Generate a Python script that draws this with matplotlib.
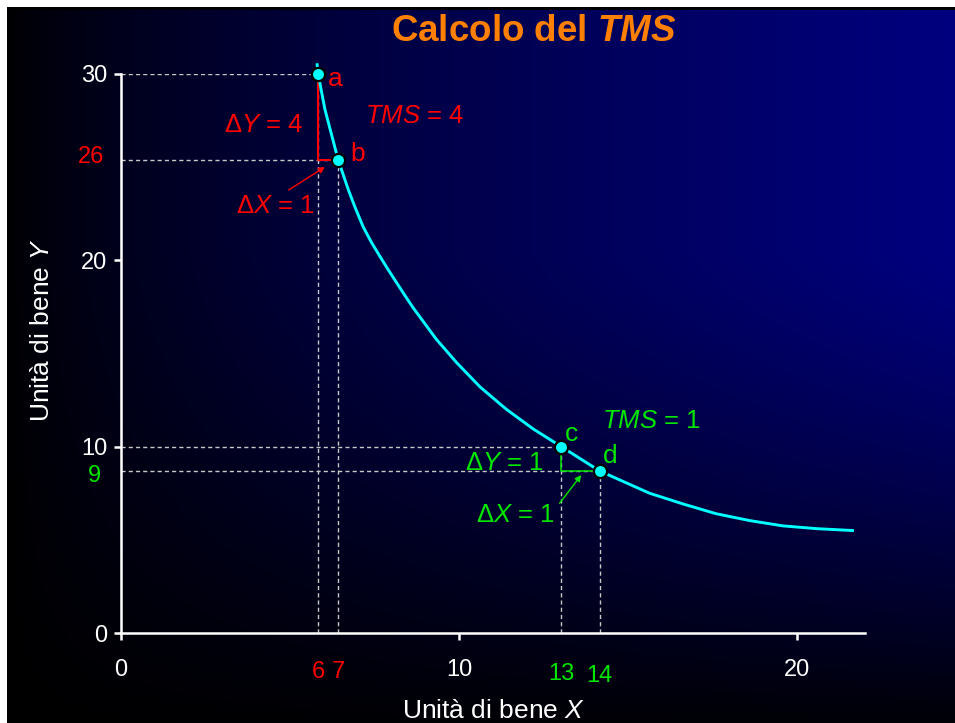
import numpy as np
import matplotlib
matplotlib.use('Agg')
import matplotlib.pyplot as plt

plt.rcParams['font.family'] = ['Liberation Sans', 'DejaVu Sans']
plt.rcParams['mathtext.fontset'] = 'custom'
plt.rcParams['mathtext.rm'] = 'Liberation Sans'
plt.rcParams['mathtext.it'] = 'Liberation Sans:italic'
plt.rcParams['mathtext.bf'] = 'Liberation Sans:bold'
plt.rcParams['mathtext.bfit'] = 'Liberation Sans:italic:bold'

# indifference curve
curve_x = [5.80, 5.83, 6.03, 6.42, 6.72, 6.92, 7.16, 7.41, 7.66, 7.90, 8.15,
           8.40, 8.64, 9.33, 9.93, 10.62, 11.40, 12.19, 13.02, 14.15, 15.63,
           16.63, 17.60, 18.60, 19.57, 20.57, 21.63]
curve_y = [30.5, 30.0, 28.1, 25.4, 23.8, 22.85, 21.8, 20.95, 20.2, 19.5, 18.8,
           18.1, 17.45, 15.75, 14.5, 13.2, 12.0, 10.95, 10.0, 8.7, 7.5,
           6.92, 6.4, 6.03, 5.75, 5.6, 5.5]

point_names = ['a', 'b', 'c', 'd']
point_x = [5.83, 6.42, 13.02, 14.15]
point_y = [30.0, 25.4, 10.0, 8.7]
point_xlabels = ['6', '7', '13', '14']

x_ticks = [0, 10, 20]
y_ticks = [0, 10, 20, 30]

RED = '#ff0000'
GREEN = '#00e600'
CYAN = '#00ffff'
GUIDE = '#c8c8c8'

W, H = 955, 723
fig = plt.figure(figsize=(W / 100, H / 100), dpi=100)

# slide background: black on the left, navy top right, dark at the bottom
yy, xx = np.mgrid[0:H, 0:W]
fx = np.clip((xx - 7) / 948, 0, 1) ** 0.7
t = np.clip((yy - 250) / (H - 250), 0, 1)
fy = 1 - 0.95 * t ** 1.3
img = np.zeros((H, W, 3))
img[..., 2] = 0.5 * fx * fy
img[:7, :] = 1
img[:, :7] = 1
img[7:10, 7:] = 0
bg = fig.add_axes([0, 0, 1, 1])
bg.imshow(img, aspect='auto', interpolation='nearest')
bg.axis('off')

ax = fig.add_axes([121 / W, (H - 633) / H, 744 / W, 559 / H])
ax.patch.set_alpha(0)
ax.set_xlim(0, 22)
ax.set_ylim(0, 30)
for s in ['top', 'right']:
    ax.spines[s].set_visible(False)
for s in ['left', 'bottom']:
    ax.spines[s].set_color('white')
    ax.spines[s].set_linewidth(1.8)
ax.set_xticks(x_ticks)
ax.set_yticks(y_ticks)
ax.tick_params(colors='white', length=5, width=1.8, labelsize=17)
ax.tick_params(axis='x', pad=14)
ax.tick_params(axis='y', pad=5)

# dashed guides to the axes
for px, py in zip(point_x, point_y):
    ax.plot([0, px], [py, py], color=GUIDE, lw=1, ls=(0, (3, 2.2)), zorder=1)
    ax.plot([px, px], [0, py], color=GUIDE, lw=1, ls=(0, (3, 2.2)), zorder=1)

ax.plot(curve_x, curve_y, color=CYAN, lw=2.1, clip_on=False, zorder=3,
        solid_joinstyle='round')

# steps between the points
ax.plot([point_x[0], point_x[0], point_x[1]], [point_y[0], point_y[1], point_y[1]],
        color=RED, lw=1.5, zorder=2)
ax.plot([point_x[2], point_x[2], point_x[3]], [point_y[2], point_y[3], point_y[3]],
        color=GREEN, lw=1.1, zorder=2)

ax.plot(point_x, point_y, 'o', ms=9.5, mfc=CYAN, mec='black', mew=1.6,
        clip_on=False, zorder=5)

cols = [RED, RED, GREEN, GREEN]
name_pos = [(6.12, 29.36), (6.77, 25.35), (13.13, 10.32), (14.25, 9.11)]
for name, (tx, ty), c in zip(point_names, name_pos, cols):
    ax.text(tx, ty, name, color=c, fontsize=19, va='baseline', ha='left')

# red part
ax.text(5.38, 26.9, 'Δ$\\mathit{Y}$ = 4', color=RED, fontsize=18.5,
        ha='right', va='baseline')
ax.text(5.74, 22.54, 'Δ$\\mathit{X}$ = 1', color=RED, fontsize=18.5,
        ha='right', va='baseline')
ax.text(7.22, 27.37, '$\\mathit{TMS}$ = 4', color=RED, fontsize=18.5,
        ha='left', va='baseline')
ax.annotate('', xy=(6.03, 25.01), xytext=(4.96, 23.78),
            arrowprops=dict(arrowstyle='-|>', color=RED, lw=1,
                            mutation_scale=9, shrinkA=0, shrinkB=0))

# green part
ax.text(12.51, 8.75, 'Δ$\\mathit{Y}$ = 1', color=GREEN, fontsize=18.5,
        ha='right', va='baseline')
ax.text(12.83, 5.97, 'Δ$\\mathit{X}$ = 1', color=GREEN, fontsize=18.5,
        ha='right', va='baseline')
ax.text(14.21, 11.02, '$\\mathit{TMS}$ = 1', color=GREEN, fontsize=18.5,
        ha='left', va='baseline')
ax.annotate('', xy=(13.61, 8.48), xytext=(12.97, 6.96),
            arrowprops=dict(arrowstyle='-|>', color=GREEN, lw=1,
                            mutation_scale=9, shrinkA=0, shrinkB=0))

# extra tick labels under the points
xt = ax.get_xaxis_transform()
lab_y = [-0.069, -0.069, -0.0726, -0.0761]
for px, lab, c, ly in zip(point_x, point_xlabels, cols, lab_y):
    ax.text(px, ly, lab, transform=xt, color=c, fontsize=17,
            ha='center', va='center')
yt = ax.get_yaxis_transform()
ax.text(-0.023, 25.55, '26', transform=yt, color=RED, fontsize=17,
        ha='right', va='center')
ax.text(-0.027, 8.43, '9', transform=yt, color=GREEN, fontsize=17,
        ha='right', va='center')

fig.text(494 / W, 1 - 711 / H, 'Unità di bene $\\mathit{X}$', color='white',
         fontsize=19, ha='center', va='center')
fig.text(42 / W, 1 - 330 / H, 'Unità di bene $\\mathit{Y}$', color='white',
         fontsize=19, ha='center', va='center', rotation=90)
fig.text(533.5 / W, 1 - 41 / H, 'Calcolo del $\\mathbfit{TMS}$', color='#ff8000',
         fontsize=26.5, fontweight='bold', ha='center', va='baseline')

fig.savefig('out.png', dpi=100, facecolor='white')
